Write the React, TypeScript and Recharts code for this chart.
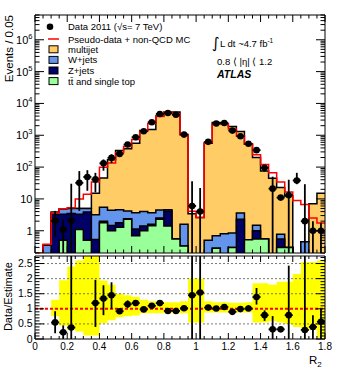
import React from 'react';
import {
  ComposedChart,
  Area,
  Line,
  Scatter,
  ErrorBar,
  XAxis,
  YAxis,
  ReferenceLine,
  Legend,
} from 'recharts';

const FONT = '"Liberation Sans", Arial, Helvetica, sans-serif';

// R2 bins: lower edges, width 0.05
const binLow = [
  0, 0.05, 0.1, 0.15, 0.2, 0.25, 0.3, 0.35, 0.4, 0.45, 0.5, 0.55, 0.6, 0.65, 0.7, 0.75, 0.8, 0.85,
  0.9, 0.95, 1, 1.05, 1.1, 1.15, 1.2, 1.25, 1.3, 1.35, 1.4, 1.45, 1.5, 1.55, 1.6, 1.65, 1.7, 1.75,
];
const BIN_W = 0.05;
const R_MAX = 1.8;

// upper panel, events / 0.05
const dataCounts = [
  null, null, 2.05, 1.07, 2.1, 32, 49, 41, 131, 195, 260, 510, 870, 1330, 2560, 4650, 5000, 4400,
  1050, 6, 4, 620, 2330, 2430, 1400, 930, 540, 340, 95, 21, 11, 13, 38, 2, 1, 1,
];
const dataLow = [
  null, null, 0.65, 0.2, 0.2, 4.2, 18, 16, 77, 134, 226, 443, 790, 1290, 2450, 4520, 4870, 4270,
  1000, 0.2, 0.2, 580, 2270, 2370, 1350, 890, 500, 280, 72, 0.2, 9.5, 0.2, 29, 0.2, 0.2, 0.2,
];
const dataHigh = [
  null, null, 4.2, 2.4, 30, 75, 80, 66, 174, 252, 297, 576, 950, 1370, 2670, 4780, 5130, 4530,
  1100, 36, 22, 660, 2390, 2490, 1450, 970, 580, 414, 114, 50, 12.5, 40, 66, 29, 2, 1.8,
];
const pseudoPlusMC = [
  0.2, 0.38, 3.7, 4.9, 5.3, 10, 14, 34, 98, 134, 283, 443, 731, 1360, 2330, 3900, 5380, 4730,
  1040, 4.1, 2.6, 596, 2300, 2290, 1560, 940, 535, 245, 120, 66, 34, 16.5, 9, 6.7, 2.5, 1.75,
];
const multijet = [
  0, 0, 0, 0, 0, 0, 0, 12, 40, 165, 325, 375, 555, 1400, 1500, 4000, 5400, 5400,
  1050, 3.4, 2.6, 560, 2500, 2300, 1900, 1300, 520, 200, 75, 45, 22, 12, 0, 0, 7, 15,
];
const wjets = [
  0, 0.35, 0.5, 1.5, 1.5, 1.7, 1.1, 2.67, 3.5, 2.95, 2.8, 1.8, 2.57, 2.6, 2.1, 2.0, 0.4, 0,
  1.27, 0, 0, 0.5, 0.42, 0.8, 0.55, 1.3, 0, 0.5, 0, 0, 0.23, 0, 0, 0.45, 0, 0,
];
const zjets = [
  0, 0, 3.3, 2.8, 3.5, 2.2, 3.4, 0.53, 0.2, 0.45, 0.5, 0.1, 0.43, 0.4, 0.17, 0.2, 2.8, 0,
  0, 0, 0, 0, 0, 0, 0, 2.3, 0, 0.45, 0, 0, 0.25, 0, 0, 0, 0, 0,
];
const ttbar = [
  0, 0, 0, 0.5, 0, 1.1, 0.5, 0, 1.8, 1.0, 1.3, 2.3, 0.7, 1.0, 1.43, 2.3, 1.4, 0.55,
  0.33, 0, 0, 0, 0.28, 0, 0.3, 0, 0.52, 0.55, 0.55, 0, 0.3, 0.3, 0, 0, 0, 0,
];

// lower panel, data / estimate
const ratio = [
  null, null, 0.55, 0.22, 0.38, null, null, 1.19, 1.34, 1.45, 0.92, 1.15, 1.19, 0.98, 1.1, 1.19, 0.93, 0.93,
  1.02, 1.45, 1.54, 1.04, 1.01, 1.06, 0.9, 0.99, 1.01, 1.39, 0.79, 0.32, 0.32, 0.79, null, 0.3, 0.4, 0.57,
];
const ratioLow = [
  null, null, 0.19, 0, 0, null, null, 0.4, 0.79, 1.0, 0.85, 1.03, 1.1, 0.95, 1.07, 1.16, 0.91, 0.91,
  0.98, 0, 0, 1.0, 0.98, 1.03, 0.87, 0.96, 0.93, 1.14, 0.6, 0, 0.25, 0, null, 0, 0, 0,
];
const ratioHigh = [
  null, null, 0.92, 0.45, 2.75, null, null, 1.96, 1.78, 1.88, 1.0, 1.28, 1.28, 1.01, 1.13, 1.22, 0.95, 0.95,
  1.06, 2.75, 2.75, 1.08, 1.04, 1.09, 0.93, 1.02, 1.12, 1.69, 0.95, 0.76, 0.4, 2.43, null, 2.75, 0.79, 1.0,
];
const bandLow = [
  null, null, 0.75, 0.45, 0.3, 0.25, 0.12, 0.12, 0.52, 0.62, 0.72, 0.75, 0.78, 0.85, 0.85, 0.85, 0.86, 0.86,
  0.85, 0.55, 0.55, 0.88, 0.88, 0.88, 0.88, 0.88, 0.88, 0.55, 0.55, 0.6, 0.55, 0.5, 0.4, 0.35, 0.3, 0.05,
];
const bandHigh = [
  null, null, 1.3, 1.95, 2.4, 2.6, 2.75, 2.75, 1.94, 1.8, 1.5, 1.45, 1.4, 1.3, 1.25, 1.25, 1.22, 1.22,
  1.25, 2.0, 2.0, 1.25, 1.22, 1.22, 1.2, 1.2, 1.22, 1.85, 1.85, 1.8, 1.9, 1.9, 2.15, 2.55, 2.55, 2.6,
];

const C_MJ = '#ffcc66';
const C_W = '#6495ed';
const C_Z = '#000066';
const C_TT = '#99ff99';

const Y_MIN = 0.2;
const Y_MAX = 6e6;
const R_TOP = 2.75;

const edges = [...binLow, R_MAX];
const floor = (v: number) => (v > 0 ? v : 0.01);

const stackRows = edges.map((x, k) => {
  const i = Math.min(k, binLow.length - 1);
  const tt = ttbar[i];
  const z = tt + zjets[i];
  const w = z + wjets[i];
  const all = w + multijet[i];
  return { x, tt: floor(tt), z: floor(z), w: floor(w), all: floor(all), red: pseudoPlusMC[i] };
});

const dataPoints = binLow.flatMap((lo, i) => {
  const v = dataCounts[i];
  if (v == null) return [];
  return [{ x: lo + BIN_W / 2, y: v, ex: BIN_W / 2, ey: [v - (dataLow[i] as number), (dataHigh[i] as number) - v] }];
});

const ratioRows = edges.map((x, k) => {
  const i = Math.min(k, binLow.length - 1);
  return { x, band: bandLow[i] == null ? null : [bandLow[i], bandHigh[i]] };
});

const ratioPoints = binLow.flatMap((lo, i) => {
  const r = ratio[i];
  if (r == null) return [];
  return [{ x: lo + BIN_W / 2, r, ex: BIN_W / 2, ey: [r - (ratioLow[i] as number), (ratioHigh[i] as number) - r] }];
});

// axis ticks
const xTicks = Array.from({ length: 37 }, (_, k) => Math.round(k * 5) / 100);
const xMajor = (v: number) => Math.abs(v * 5 - Math.round(v * 5)) < 1e-6;
const logTicks: number[] = [];
for (let e = -1; e <= 6; e++) {
  for (let m = 1; m <= 9; m++) {
    const v = Number((m * 10 ** e).toPrecision(2));
    if (v >= Y_MIN && v <= Y_MAX) logTicks.push(v);
  }
}
const logMajor = (v: number) => Math.abs(Math.log10(v) - Math.round(Math.log10(v))) < 1e-6;
const rTicks = Array.from({ length: 28 }, (_, k) => k / 10);
const rMajor = (v: number) => Math.abs(v * 2 - Math.round(v * 2)) < 1e-6;

type Side = 'left' | 'right' | 'top' | 'bottom';
const DIR: Record<Side, [number, number]> = { left: [1, 0], right: [-1, 0], top: [0, 1], bottom: [0, -1] };

// ROOT style ticks pointing into the frame
function frameTick(
  side: Side,
  isMajor: (v: number) => boolean,
  majorLen: number,
  minorLen: number,
  label?: (v: number, x: number, y: number) => React.ReactNode,
) {
  return (props: any) => {
    const { x, y, payload } = props;
    const v = payload.value;
    const major = isMajor(v);
    const len = major ? majorLen : minorLen;
    const [dx, dy] = DIR[side];
    return (
      <g>
        <line x1={x} y1={y} x2={x + dx * len} y2={y + dy * len} stroke="#000" strokeWidth={1} />
        {major && label ? label(v, x, y) : null}
      </g>
    );
  };
}

const logLabel = (v: number, x: number, y: number) => {
  const e = Math.round(Math.log10(v));
  return (
    <text x={x - 2.5} y={y + 4} textAnchor="end" fontSize={11} fontFamily={FONT} fill="#000">
      {e < 2 ? String(v) : (
        <>
          10<tspan dy={-5} fontSize={7.5}>{e}</tspan>
        </>
      )}
    </text>
  );
};

const ratioLabel = (v: number, x: number, y: number) => (
  <text x={x - 2.5} y={y + 3.5} textAnchor="end" fontSize={10.5} fontFamily={FONT} fill="#000">
    {String(v)}
  </text>
);

const xLabel = (v: number, x: number, y: number) => (
  <text x={x} y={y + 11} textAnchor="middle" fontSize={10} fontFamily={FONT} fill="#000">
    {v === 0 || v === 1 ? String(v) : v.toFixed(1)}
  </text>
);

const dot = (p: any) => <circle cx={p.cx} cy={p.cy} r={3.3} fill="#000" />;

const legendBoxes = [
  { label: 'multijet', color: C_MJ },
  { label: 'W+jets', color: C_W },
  { label: 'Z+jets', color: C_Z },
  { label: 'tt\u0304 and single top', color: C_TT },
];

const LegendArt = () => (
  <svg width={220} height={90} style={{ display: 'block', overflow: 'visible' }}>
    <g fontFamily={FONT} fontSize={9.5} fill="#000">
      <circle cx={50} cy={26.7} r={3.3} fill="#000" />
      <text x={68} y={30.3}>Data 2011 (√s= 7 TeV)</text>
      <line x1={48} x2={59} y1={39} y2={39} stroke="#ff0000" strokeWidth={1.5} />
      <text x={68} y={42.5}>Pseudo-data + non-QCD MC</text>
      {legendBoxes.map((r, k) => {
        const cy = 49.3 + k * 10.6;
        return (
          <g key={r.label}>
            <rect x={49} y={cy - 3.5} width={9} height={7} fill={r.color} stroke="#000" strokeWidth={1} />
            <text x={68} y={cy + 3.4}>{r.label}</text>
          </g>
        );
      })}
    </g>
  </svg>
);

// frame axes need a size of at least 1px or recharts skips them
function MainPanel() {
  return (
    <ComposedChart width={361} height={256} data={stackRows} margin={{ top: 14, right: 35, bottom: 2, left: 5 }}>
      <Area dataKey="all" type="stepAfter" fill={C_MJ} fillOpacity={1} stroke="#000" strokeWidth={1.5} isAnimationActive={false} />
      <Area dataKey="w" type="stepAfter" fill={C_W} fillOpacity={1} stroke="#000" strokeWidth={1.5} isAnimationActive={false} />
      <Area dataKey="z" type="stepAfter" fill={C_Z} fillOpacity={1} stroke="#000" strokeWidth={1.5} isAnimationActive={false} />
      <Area dataKey="tt" type="stepAfter" fill={C_TT} fillOpacity={1} stroke="#000" strokeWidth={1.5} isAnimationActive={false} />
      <Line dataKey="red" type="stepAfter" stroke="#ff0000" strokeWidth={1.5} dot={false} isAnimationActive={false} />
      <Scatter data={dataPoints} dataKey="y" shape={dot} fill="#000" isAnimationActive={false}>
        <ErrorBar dataKey="ey" direction="y" width={0} stroke="#000" strokeWidth={1.8} isAnimationActive={false} />
        <ErrorBar dataKey="ex" direction="x" width={0} stroke="#000" strokeWidth={1.8} isAnimationActive={false} />
      </Scatter>
      <XAxis
        dataKey="x" type="number" domain={[0, R_MAX]} allowDataOverflow ticks={xTicks} interval={0}
        height={1} tickSize={0} tickMargin={0} tickLine={false} axisLine={{ stroke: '#000' }}
        tick={frameTick('bottom', xMajor, 7, 3.5)}
      />
      <XAxis
        xAxisId="top" orientation="top" dataKey="x" type="number" domain={[0, R_MAX]} allowDataOverflow
        ticks={xTicks} interval={0} height={1} tickSize={0} tickMargin={0} tickLine={false}
        axisLine={{ stroke: '#000' }} tick={frameTick('top', xMajor, 7, 3.5)}
      />
      <YAxis
        type="number" scale="log" domain={[Y_MIN, Y_MAX]} allowDataOverflow ticks={logTicks} interval={0}
        width={30} tickSize={0} tickMargin={0} tickLine={false} axisLine={{ stroke: '#000' }}
        tick={frameTick('left', logMajor, 9, 4.5, logLabel)}
      />
      <YAxis
        yAxisId="right" orientation="right" type="number" scale="log" domain={[Y_MIN, Y_MAX]} allowDataOverflow
        ticks={logTicks} interval={0} width={1} tickSize={0} tickMargin={0} tickLine={false}
        axisLine={{ stroke: '#000' }} tick={frameTick('right', logMajor, 9, 4.5)}
      />
      <Legend
        layout="horizontal" verticalAlign="middle" align="center"
        wrapperStyle={{ left: 0, top: 0, width: 220, height: 90 }}
        content={() => <LegendArt />}
      />
    </ComposedChart>
  );
}

function RatioPanel() {
  return (
    <ComposedChart width={361} height={126} data={ratioRows} margin={{ top: 5, right: 35, bottom: 36, left: 5 }}>
      <Area dataKey="band" type="stepAfter" fill="#ffff00" fillOpacity={1} stroke="none" isAnimationActive={false} />
      {[0.5, 1.5, 2, 2.5].map((v) => (
        <ReferenceLine key={v} y={v} stroke="#555" strokeWidth={0.8} strokeDasharray="2 2" />
      ))}
      <ReferenceLine y={1} stroke="#ff0000" strokeWidth={2} strokeDasharray="3 2" />
      <Scatter data={ratioPoints} dataKey="r" shape={dot} fill="#000" isAnimationActive={false}>
        <ErrorBar dataKey="ey" direction="y" width={0} stroke="#000" strokeWidth={1.8} isAnimationActive={false} />
        <ErrorBar dataKey="ex" direction="x" width={0} stroke="#000" strokeWidth={1.8} isAnimationActive={false} />
      </Scatter>
      <XAxis
        dataKey="x" type="number" domain={[0, R_MAX]} allowDataOverflow ticks={xTicks} interval={0}
        height={1} tickSize={0} tickMargin={0} tickLine={false} axisLine={{ stroke: '#000' }}
        tick={frameTick('bottom', xMajor, 6, 3, xLabel)}
      />
      <XAxis
        xAxisId="top" orientation="top" dataKey="x" type="number" domain={[0, R_MAX]} allowDataOverflow
        ticks={xTicks} interval={0} height={1} tickSize={0} tickMargin={0} tickLine={false}
        axisLine={{ stroke: '#000' }} tick={frameTick('top', xMajor, 6, 3)}
      />
      <YAxis
        type="number" domain={[0, R_TOP]} allowDataOverflow ticks={rTicks} interval={0}
        width={30} tickSize={0} tickMargin={0} tickLine={false} axisLine={{ stroke: '#000' }}
        tick={frameTick('left', rMajor, 9, 4.5, ratioLabel)}
      />
      <YAxis
        yAxisId="right" orientation="right" type="number" domain={[0, R_TOP]} allowDataOverflow
        ticks={rTicks} interval={0} width={1} tickSize={0} tickMargin={0} tickLine={false}
        axisLine={{ stroke: '#000' }} tick={frameTick('right', rMajor, 9, 4.5)}
      />
    </ComposedChart>
  );
}

export default function App() {
  return (
    <div style={{ position: 'absolute', left: 0, top: 0, width: 361, height: 376, background: '#fff', overflow: 'hidden' }}>
      <div style={{ position: 'absolute', left: 0, top: 0 }}>
        <MainPanel />
      </div>
      <div style={{ position: 'absolute', left: 0, top: 250 }}>
        <RatioPanel />
      </div>
      <svg width={361} height={376} style={{ position: 'absolute', left: 0, top: 0, pointerEvents: 'none' }}>
        <g fontFamily={FONT} fill="#000">
          <text transform="translate(13,15) rotate(-90)" textAnchor="end" fontSize={11.5}>Events / 0.05</text>
          <text transform="translate(12,262) rotate(-90)" textAnchor="end" fontSize={11}>Data/Estimate</text>
          <text x={309} y={364} fontSize={11.5}>
            R<tspan dy={3} fontSize={8}>2</tspan>
          </text>
          <text x={212} y={48} fontSize={15} fontFamily='"DejaVu Sans", sans-serif'>∫</text>
          <text x={220} y={47} fontSize={9.5}>
            L dt ~4.7 fb<tspan dy={-4} fontSize={6.5}>-1</tspan>
          </text>
          <text x={217} y={64.5} fontSize={9.5}>0.8 ⟨ |η| ⟨ 1.2</text>
          <text x={217} y={77.5} fontSize={10.5} fontWeight="bold" fontStyle="italic">ATLAS</text>
        </g>
      </svg>
    </div>
  );
}
